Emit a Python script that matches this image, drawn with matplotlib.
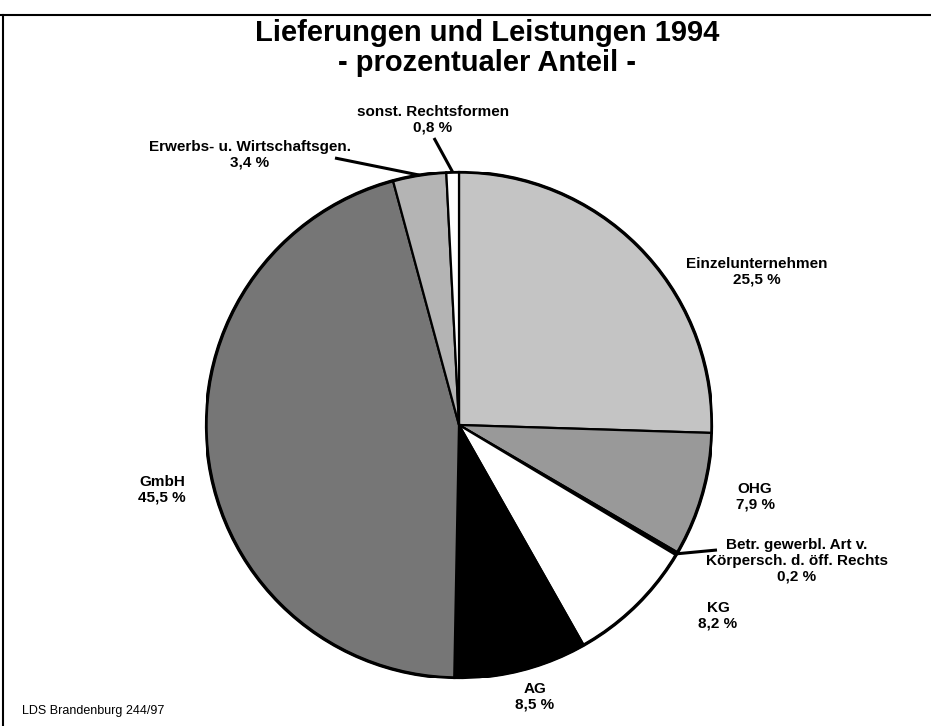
import numpy as np
import matplotlib
matplotlib.use("Agg")
import matplotlib.pyplot as plt

# --------------------------------------------------------------------------- #
# Data (clockwise from 12 o'clock)
# --------------------------------------------------------------------------- #
NAMES = ["Einzelunternehmen", "OHG",
         "Betr. gewerbl. Art v.\nKörpersch. d. öff. Rechts", "KG", "AG",
         "GmbH", "Erwerbs- u. Wirtschaftsgen.", "sonst. Rechtsformen"]
SHARES = [25.5, 7.9, 0.2, 8.2, 8.5, 45.5, 3.4, 0.8]
PCT_LABELS = ["25,5 %", "7,9 %", "0,2 %", "8,2 %", "8,5 %", "45,5 %", "3,4 %", "0,8 %"]
TITLE = "Lieferungen und Leistungen 1994\n- prozentualer Anteil -"
SOURCE = "LDS Brandenburg 244/97"

# --------------------------------------------------------------------------- #
# Layout (pixels on a 931 x 726 canvas)
# --------------------------------------------------------------------------- #
W, H = 931, 726
CX, CY, R = 459, 425, 253
FILLS = ["#c4c4c4", "#999999", "#000000", "#ffffff", "#000000",
         "#767676", "#b4b4b4", "#ffffff"]
# label block centres (px)
LABEL_POS = [(757, 272), (755, 497), (797, 561), (718, 616), (535, 697),
             (162, 490), (250, 155), (433, 120)]
# leader line label-side end (px), None = no leader
LEADER_END = [None, None, (717, 550), None, None, None, (335, 158), (434, 138)]
FONT = ["Liberation Sans", "DejaVu Sans"]


def fig_xy(x, y):
    return x / W, 1 - y / H


fig = plt.figure(figsize=(W / 100, H / 100), dpi=100)
ax = fig.add_axes([(CX - R) / W, (H - CY - R) / H, 2 * R / W, 2 * R / H])

wedges, _ = ax.pie(SHARES, colors=FILLS, startangle=90, counterclock=False,
                   radius=1, wedgeprops=dict(edgecolor="black", linewidth=1.6))
ax.add_patch(plt.Circle((0, 0), 1, fill=False, lw=2.4, color="black"))
ax.set_xlim(-1, 1); ax.set_ylim(-1, 1); ax.axis("off")

# leaders from wedge edge to label
cum = np.cumsum([0] + SHARES)
for i, end in enumerate(LEADER_END):
    if end is None:
        continue
    mid = np.deg2rad(90 - 3.6 * (cum[i] + cum[i + 1]) / 2)
    ex, ey = np.cos(mid), np.sin(mid)
    lx, ly = (end[0] - CX) / R, (CY - end[1]) / R
    ax.plot([lx, ex], [ly, ey], color="black", lw=2.2, clip_on=False,
            solid_capstyle="butt")

for name, pct, (x, y) in zip(NAMES, PCT_LABELS, LABEL_POS):
    fig.text(*fig_xy(x, y), f"{name}\n{pct}", ha="center", va="center",
             fontsize=11, fontweight="bold", family=FONT, linespacing=1.15,
             multialignment="center")

fig.text(*fig_xy(487, 48), TITLE, ha="center", va="center", fontsize=21,
         fontweight="bold", family=FONT, linespacing=1.1)
fig.text(*fig_xy(22, 711), SOURCE, ha="left", va="center", fontsize=9,
         family=FONT)

# frame of the scanned page
fig.add_artist(plt.Line2D([0, 1], [1 - 15 / H] * 2, color="black", lw=1.5))
fig.add_artist(plt.Line2D([3 / W] * 2, [0, 1 - 15 / H], color="black", lw=1.5))

fig.savefig("out.png", dpi=100)
